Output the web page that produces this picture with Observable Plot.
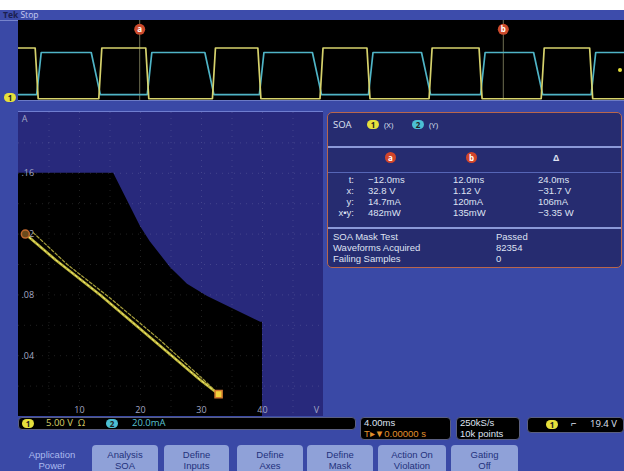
<!DOCTYPE html>
<html><head><meta charset="utf-8">
<script src="https://cdn.jsdelivr.net/npm/d3@7"></script>
<script src="https://cdn.jsdelivr.net/npm/@observablehq/plot@0.6"></script>
<style>
body{margin:0;background:#fff;}
#scope{position:relative;width:624px;height:471px;overflow:hidden;background:#3a49a6;font-family:"Open Sans","Noto Sans",sans-serif;}
.abs{position:absolute;}
.badge{position:absolute;height:9px;width:12px;border-radius:5px;font-size:8px;line-height:9px;text-align:center;color:#222;font-weight:bold;}
.y{background:#e6e03c;}
.c{background:#4cc0d4;}
.txt{position:absolute;white-space:nowrap;font-size:9.5px;line-height:10px;color:#dfe2f2;}
.row{font-family:"Liberation Sans","Arimo",sans-serif;font-size:9.5px;}
.box{position:absolute;background:#000;border:1px solid #5a5f80;border-radius:4px;box-sizing:border-box;}
.btn{position:absolute;top:445px;height:30px;background:#8fa1d8;border-radius:4px 4px 0 0;box-sizing:border-box;}
.bt{position:absolute;white-space:nowrap;font-family:"Liberation Sans","Arimo",sans-serif;font-size:9.5px;line-height:10px;color:#23317c;text-align:center;}
.mk{position:absolute;width:11px;height:11px;border-radius:50%;background:#d2452a;color:#fff;font-size:8px;line-height:11px;text-align:center;font-weight:bold;}
</style></head><body><div id="scope"></div>
<script>
// ---- Top time-domain waveforms (time in ms) ----
const ch1VperDiv = 5;      // 5.00 V/div
const ch2mAperDiv = 20;    // 20.0 mA/div
const yellowT = [-20, -18.9, -18.7, -14.7, -14.5, -11.6, -11.4, -7.2, -7.0, -4.2, -4.0, -0.1, 0.1, 3.0, 3.2, 7.1, 7.3, 10.4, 10.6, 14.5, 14.7, 17.7, 17.9, 20];
const yellowV = [32.8, 32.8, 1.1, 1.1, 32.8, 32.8, 1.1, 1.1, 32.8, 32.8, 1.1, 1.1, 32.8, 32.8, 1.1, 1.1, 32.8, 32.8, 1.1, 1.1, 32.8, 32.8, 1.1, 1.1];
const cyanT = [-20, -18.8, -18.5, -15.2, -14.6, -11.5, -11.2, -7.7, -7.1, -4.1, -3.8, -0.6, 0, 3.1, 3.4, 6.6, 7.2, 10.5, 10.8, 14.0, 14.6, 17.8, 18.1, 20];
const cyanMA = [14.7, 14.7, 120, 120, 14.7, 14.7, 120, 120, 14.7, 14.7, 120, 120, 14.7, 14.7, 120, 120, 14.7, 14.7, 120, 120, 14.7, 14.7, 120, 120];
const cursorT = [-12, 12];
const cursorLabels = ["a", "b"];

// ---- SOA (XY) plot ----
const maskV = [0, 15.6, 20, 21.6, 24.9, 27.7, 31, 39.7, 40];
const maskA = [0.16, 0.16, 0.125, 0.115, 0.098, 0.087, 0.079, 0.062, 0.062];
const traceV = [1.12, 6.1, 13.4, 21.6, 29.8, 32.8];
const traceA = [0.120, 0.103, 0.080, 0.052, 0.024, 0.0147];
const trace2V = [2.4, 8.0, 15.0, 23.0, 30.4, 32.8];
const trace2A = [0.121, 0.100, 0.078, 0.051, 0.024, 0.0147];
const gridV = [5, 10, 15, 20, 25, 30, 35, 40, 45];
const gridA = [0.02, 0.04, 0.06, 0.08, 0.10, 0.12, 0.14, 0.16, 0.18];
const xTicks = [10, 20, 30, 40];
const yTicks = [0.04, 0.08, 0.12, 0.16];
const yTickLabels = [".04", ".08", ".12", ".16"];

// ---- Readouts ----
const rowLabels = ["t:", "x:", "y:", "x•y:"];
const colA = ["−12.0ms", "32.8 V", "14.7mA", "482mW"];
const colB = ["12.0ms", "1.12 V", "120mA", "135mW"];
const colD = ["24.0ms", "−31.7 V", "106mA", "−3.35 W"];
const statLabels = ["SOA Mask Test", "Waveforms Acquired", "Failing Samples"];
const statValues = ["Passed", "82354", "0"];
const buttonTop = ["Analysis", "Define", "Define", "Define", "Action On", "Gating"];
const buttonBottom = ["SOA", "Inputs", "Axes", "Mask", "Violation", "Off"];

const S = document.getElementById("scope");
function el(tag, cls, style, html) {
  const e = document.createElement(tag);
  if (cls) e.className = cls;
  Object.assign(e.style, style || {});
  if (html !== undefined) e.innerHTML = html;
  S.appendChild(e);
  return e;
}

// chrome
el("div", "abs", {left: "0px", top: "0px", width: "624px", height: "10px", background: "#fff"});
el("div", "abs", {left: "0px", top: "10px", width: "624px", height: "10px", background: "#3d4cab", borderBottom: "1px solid #7684cc"});
el("div", "txt", {left: "3px", top: "10px", fontSize: "8.5px", lineHeight: "10px", color: "#1b2050", fontWeight: "bold"}, "Tek <span style='color:#c6cdf2;font-weight:normal'>Stop</span>");

// top waveform plot
const yellowPts = yellowT.map((t, i) => ({t, v: yellowV[i]}));
const cyanPts = cyanT.map((t, i) => ({t, mA: cyanMA[i]}));
const topPlot = Plot.plot({
  width: 606, height: 80, margin: 0,
  x: {domain: [-20, 20], axis: null},
  y: {domain: [0, 10], axis: null},
  style: {background: "#000"},
  marks: [
    Plot.ruleX(cursorT, {stroke: "#6f6f52", strokeWidth: 1}),
    Plot.line(cyanPts, {x: "t", y: d => d.mA / ch2mAperDiv, stroke: "#4fb4c6", strokeWidth: 1.7}),
    Plot.line(yellowPts, {x: "t", y: d => d.v / ch1VperDiv, stroke: "#d6d26c", strokeWidth: 1.7}),
    Plot.dot(cursorT, {x: d => d, y: 8.9, r: 5.5, fill: "#cc4a2c"}),
    Plot.text(cursorT, {x: d => d, y: 8.9, text: (d, i) => cursorLabels[i], fill: "#fff", fontSize: 8, fontWeight: "bold"})
  ]
});
const tp = el("div", "abs", {left: "18px", top: "20px", width: "606px", height: "80px"});
tp.appendChild(topPlot);
el("div", "abs", {left: "18px", top: "100px", width: "606px", height: "1px", background: "#6b7ac6"});
el("div", "badge y", {left: "4px", top: "93px"}, "1");
el("div", "abs", {left: "618px", top: "68px", width: "4px", height: "4px", borderRadius: "2px", background: "#e6e03c"});

// XY SOA plot
const mask = maskV.map((v, i) => ({v, a: maskA[i]}));
const trace = traceV.map((v, i) => ({v, a: traceA[i]}));
const trace2 = trace2V.map((v, i) => ({v, a: trace2A[i]}));
const xyPlot = Plot.plot({
  width: 305, height: 304, margin: 0,
  x: {domain: [0, 50], axis: null},
  y: {domain: [0, 0.2], axis: null},
  style: {background: "#28297c", fontFamily: "Open Sans, sans-serif"},
  marks: [
    Plot.areaY(mask, {x: "v", y: "a", fill: "#000", curve: "linear"}),
    Plot.ruleX(gridV, {stroke: "#ffffff", strokeOpacity: 0.13, strokeDasharray: "1,5"}),
    Plot.ruleY(gridA, {stroke: "#ffffff", strokeOpacity: 0.13, strokeDasharray: "1,5"}),
    Plot.text(yTicks, {x: 0, y: d => d, text: (d, i) => yTickLabels[i], dx: 3, textAnchor: "start", fill: "#a3a8c4", fontSize: 9}),
    Plot.text(xTicks, {x: d => d, y: 0, dy: -6, text: d => String(d), fill: "#a3a8c4", fontSize: 9}),
    Plot.text(["V"], {x: 50, y: 0, dx: -7, dy: -6, text: d => d, fill: "#a3a8c4", fontSize: 9}),
    Plot.text(["A"], {x: 0, y: 0.2, dx: 6, dy: 7, text: d => d, fill: "#a3a8c4", fontSize: 9}),
    Plot.line(trace2, {x: "v", y: "a", stroke: "#a8a03c", strokeWidth: 1.2, strokeDasharray: "3,2"}),
    Plot.line(trace, {x: "v", y: "a", stroke: "#bdb43a", strokeWidth: 2.6}),
    Plot.line(trace, {x: "v", y: "a", stroke: "#f2ee7c", strokeWidth: 1, strokeDasharray: "2,3"}),
    Plot.dot([trace[0]], {x: "v", y: "a", r: 4, stroke: "#c0682e", fill: "#6b4a1c", strokeWidth: 1.5}),
    Plot.dot([trace[trace.length - 1]], {x: "v", y: "a", r: 4, symbol: "square", stroke: "#d0762e", fill: "#f0d23c", strokeWidth: 1.5})
  ]
});
const xp = el("div", "abs", {left: "18px", top: "112px", width: "305px", height: "304px", borderTop: "1px solid #6f7ed0", marginTop: "-1px"});
xp.appendChild(xyPlot);

// readout box
const R = el("div", "abs", {left: "327px", top: "112px", width: "295px", height: "156px", background: "#262c70", border: "1.5px solid #b8664c", borderRadius: "5px", boxSizing: "border-box"});
function rt(parent, x, y, text, style, cls) {
  const e = document.createElement("div");
  e.className = "txt" + (cls ? " " + cls : "");
  Object.assign(e.style, {left: x + "px", top: (y - 5) + "px"}, style || {});
  e.innerHTML = text;
  parent.appendChild(e);
  return e;
}
rt(R, 5, 12, "SOA");
const b1 = document.createElement("div"); b1.className = "badge y"; Object.assign(b1.style, {left: "39px", top: "7px"}); b1.textContent = "1"; R.appendChild(b1);
rt(R, 56, 12, "(X)", {fontSize: "8px"});
const b2 = document.createElement("div"); b2.className = "badge c"; Object.assign(b2.style, {left: "84px", top: "7px"}); b2.textContent = "2"; R.appendChild(b2);
rt(R, 101, 12, "(Y)", {fontSize: "8px"});
const l1 = document.createElement("div"); Object.assign(l1.style, {position: "absolute", left: "0px", top: "33px", width: "100%", height: "2px", background: "#8b99d8"}); R.appendChild(l1);
const l2 = document.createElement("div"); Object.assign(l2.style, {position: "absolute", left: "0px", top: "59px", width: "100%", height: "1px", background: "#5666b6"}); R.appendChild(l2);
const l3 = document.createElement("div"); Object.assign(l3.style, {position: "absolute", left: "0px", top: "114px", width: "100%", height: "2px", background: "#8b99d8"}); R.appendChild(l3);
[["a", 57], ["b", 138]].forEach(([t, x]) => {
  const m = document.createElement("div"); m.className = "mk"; Object.assign(m.style, {left: x + "px", top: "39px"}); m.textContent = t; R.appendChild(m);
});
rt(R, 225, 45, "Δ", {fontWeight: "bold"});
const rowY = [67, 78, 89, 100];
rowLabels.forEach((lab, i) => {
  rt(R, 0, rowY[i], lab, {width: "26px", textAlign: "right"}, "row");
  rt(R, 40, rowY[i], colA[i], {}, "row");
  rt(R, 125, rowY[i], colB[i], {}, "row");
  rt(R, 210, rowY[i], colD[i], {}, "row");
});
const statY = [124, 135, 146];
statLabels.forEach((lab, i) => {
  rt(R, 5, statY[i], lab, {}, "row");
  rt(R, 168, statY[i], statValues[i], {}, "row");
});

// status bar
el("div", "box", {left: "18px", top: "417px", width: "338px", height: "13px"});
el("div", "badge y", {left: "22px", top: "419px"}, "1");
el("div", "txt", {left: "46px", top: "418px", color: "#d6d06a"}, "5.00 V &nbsp;Ω");
el("div", "badge c", {left: "106px", top: "419px"}, "2");
el("div", "txt", {left: "132px", top: "418px", color: "#58c0d0"}, "20.0mA");
el("div", "box", {left: "360px", top: "417px", width: "91px", height: "23px"});
el("div", "txt row", {left: "364px", top: "418px"}, "4.00ms");
el("div", "txt row", {left: "364px", top: "429px", color: "#e0902c"}, "T▸▼0.00000 s");
el("div", "box", {left: "456px", top: "417px", width: "64px", height: "23px"});
el("div", "txt row", {left: "460px", top: "418px"}, "250kS/s");
el("div", "txt row", {left: "460px", top: "429px"}, "10k points");
el("div", "box", {left: "527px", top: "417px", width: "97px", height: "16px"});
el("div", "badge y", {left: "546px", top: "420px"}, "1");
el("div", "txt", {left: "571px", top: "419px"}, "⌐");
el("div", "txt", {left: "590px", top: "419px"}, "19.4 V");

// buttons
el("div", "bt", {left: "14px", top: "450px", width: "76px", color: "#aab9ee"}, "Application");
el("div", "bt", {left: "14px", top: "461px", width: "76px", color: "#aab9ee"}, "Power");
const btnX = [92, 164, 237, 307, 378, 451];
const btnW = [66, 65, 66, 66, 68, 67];
buttonTop.forEach((t, i) => {
  el("div", "btn", {left: btnX[i] + "px", width: btnW[i] + "px"});
  el("div", "bt", {left: btnX[i] + "px", width: btnW[i] + "px", top: "450px"}, t);
  el("div", "bt", {left: btnX[i] + "px", width: btnW[i] + "px", top: "461px"}, buttonBottom[i]);
});
</script></body></html>
